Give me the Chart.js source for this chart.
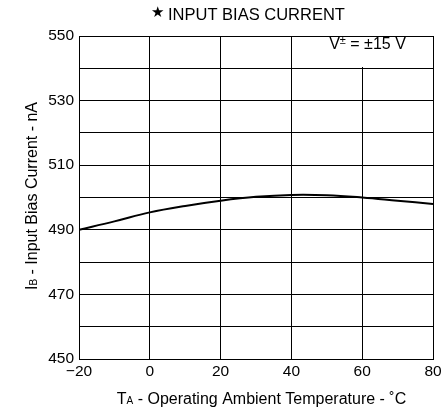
<!DOCTYPE html>
<html>
<head>
<meta charset="utf-8">
<script src="https://cdn.jsdelivr.net/npm/chart.js@4"></script>
<style>
  html, body { margin: 0; padding: 0; background: #fff; }
  #wrap { width: 445px; height: 415px; }
</style>
</head>
<body>
<div id="wrap"><canvas id="biasChart" width="445" height="415"></canvas></div>
<script>
// Input bias current vs ambient temperature
const temps = [-20, -10, 0, 10, 20, 30, 40, 50, 60, 70, 80];
const biasCurrent = [490, 492.6, 495.4, 497.4, 499.0, 500.2, 500.8, 500.7, 500.0, 499.0, 498.0];
const xTickLabels = ['\u221220', '0', '20', '40', '60', '80'];
const yTickLabels = ['450', '470', '490', '510', '530', '550'];

const FONT = '"Liberation Sans", Arial, sans-serif';

// draw a run of text pieces with different fonts, centred on x
function drawParts(ctx, parts, x, y) {
    let total = 0;
    parts.forEach(p => { ctx.font = p.font; total += ctx.measureText(p.text).width; });
    let cx = x - total / 2;
    parts.forEach(p => {
        ctx.font = p.font;
        ctx.fillText(p.text, cx, y + (p.dy || 0));
        cx += ctx.measureText(p.text).width;
    });
}

const textPlugin = {
    id: 'texts',
    afterDraw(chart) {
        const ctx = chart.ctx;
        const xs = chart.scales.x;
        const ys = chart.scales.y;
        ctx.save();
        ctx.fillStyle = '#000';
        ctx.textBaseline = 'alphabetic';
        ctx.textAlign = 'left';

        // title
        ctx.font = '15px "DejaVu Sans"';
        ctx.fillText('\u2605', 151, 17);
        ctx.font = '16.5px ' + FONT;
        ctx.fillText('INPUT BIAS CURRENT', 168, 20);

        // supply annotation, the 60 gridline is blanked behind it
        const x60 = xs.getPixelForValue(60);
        const top = Math.round(chart.chartArea.top);
        const y540 = Math.round(ys.getPixelForValue(540));
        ctx.fillStyle = '#fff';
        ctx.fillRect(x60 - 38, top + 1, 84, y540 - top - 2);
        ctx.fillStyle = '#000';
        drawParts(ctx, [
            { text: 'V', font: '16px ' + FONT },
            { text: '\u00b1', font: '11px ' + FONT, dy: -5 },
            { text: ' = \u00b115 V', font: '16px ' + FONT }
        ], 367.5, 48.5);

        // x axis title
        drawParts(ctx, [
            { text: 'T', font: '16px ' + FONT },
            { text: 'A', font: '10px ' + FONT },
            { text: ' - Operating Ambient Temperature - \u02daC', font: '16px ' + FONT }
        ], 261.5, 403.5);

        // y axis title
        ctx.translate(37, 196);
        ctx.rotate(-Math.PI / 2);
        drawParts(ctx, [
            { text: 'I', font: '16px ' + FONT },
            { text: 'B', font: '10px ' + FONT },
            { text: ' - Input Bias Current - nA', font: '16px ' + FONT }
        ], 0, 0);
        ctx.restore();
    }
};

const ctx = document.getElementById('biasChart').getContext('2d');
new Chart(ctx, {
    type: 'line',
    data: {
        datasets: [{
            data: temps.map((t, i) => ({ x: t, y: biasCurrent[i] })),
            borderColor: '#000',
            borderWidth: 2,
            pointRadius: 0,
            tension: 0.4,
            fill: false
        }]
    },
    options: {
        responsive: false,
        animation: false,
        layout: { padding: { top: 36, right: 12, left: 0, bottom: 0 } },
        plugins: { legend: { display: false }, tooltip: { enabled: false } },
        scales: {
            x: {
                type: 'linear',
                min: -20,
                max: 80,
                afterFit: s => { s.height = 56; },
                afterBuildTicks: s => { s.ticks = temps.filter(t => t % 20 === 0).map(v => ({ value: v })); },
                grid: { color: '#000', lineWidth: 1, drawTicks: false },
                border: { color: '#000', width: 1 },
                ticks: {
                    padding: 3,
                    color: '#000',
                    font: { family: FONT, size: 15.5 },
                    maxRotation: 0,
                    callback: (v) => xTickLabels[(v + 20) / 20]
                }
            },
            y: {
                min: 450,
                max: 550,
                afterFit: s => { s.width = 79; },
                grid: { color: '#000', lineWidth: 1, drawTicks: false },
                border: { color: '#000', width: 1 },
                ticks: {
                    stepSize: 10,
                    padding: 5,
                    color: '#000',
                    font: { family: FONT, size: 15.5 },
                    callback: (v) => ((v - 450) % 20 === 0 ? yTickLabels[(v - 450) / 20] : '')
                }
            }
        }
    },
    plugins: [textPlugin]
});
</script>
</body>
</html>
